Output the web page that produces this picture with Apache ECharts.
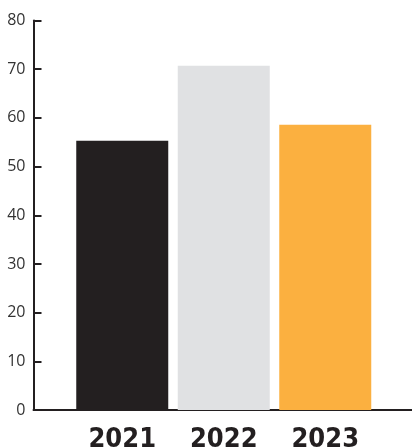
<!DOCTYPE html>
<html><head><meta charset="utf-8">
<script src="https://cdn.jsdelivr.net/npm/echarts@6/dist/echarts.min.js"></script>
<style>html,body{margin:0;padding:0;background:#fff}#c{width:412px;height:448px}</style>
</head><body><div id="c"></div>
<script>
var categories = ['2021', '2022', '2023'];
var values = [55.3, 70.7, 58.6];
var barColors = ['#231f20', '#e0e1e3', '#fbb040'];
var yMin = 0, yMax = 80, yStep = 10;

var chart = echarts.init(document.getElementById('c'), null, {renderer: 'canvas'});
chart.setOption({
  animation: false,
  grid: [
    {left: 71.5, right: 36, top: 20.5, bottom: 38, outerBoundsMode: 'none', containLabel: false},
    {left: 33.5, right: 0, top: 20.5, bottom: 38, outerBoundsMode: 'none', containLabel: false}
  ],
  xAxis: [
    {gridIndex: 0, type: 'category', data: categories,
     axisLine: {show: false}, axisTick: {show: false},
     axisLabel: {interval: 0, hideOverlap: false, margin: 16,
                 fontFamily: '"Liberation Sans Narrow","DejaVu Sans Condensed",sans-serif',
                 fontWeight: 'bold', fontSize: 27, color: '#231f20'}},
    {gridIndex: 1, type: 'value', min: 0, max: 1,
     axisLine: {show: true, lineStyle: {color: '#231f20', width: 2}},
     axisTick: {show: false}, axisLabel: {show: false}, splitLine: {show: false}}
  ],
  yAxis: [
    {gridIndex: 0, type: 'value', min: yMin, max: yMax, interval: yStep, show: false},
    {gridIndex: 1, type: 'value', min: yMin, max: yMax, interval: yStep,
     axisLine: {show: true, lineStyle: {color: '#231f20', width: 2}},
     axisTick: {show: true, inside: true, length: 8, lineStyle: {color: '#231f20', width: 2}},
     axisLabel: {margin: 8, fontFamily: '"Open Sans",sans-serif', fontSize: 16, color: '#333'},
     splitLine: {show: false}}
  ],
  series: [{
    type: 'bar', xAxisIndex: 0, yAxisIndex: 0, barWidth: 92,
    data: values.map(function (v, i) { return {value: v, itemStyle: {color: barColors[i]}}; })
  }]
});
</script></body></html>
